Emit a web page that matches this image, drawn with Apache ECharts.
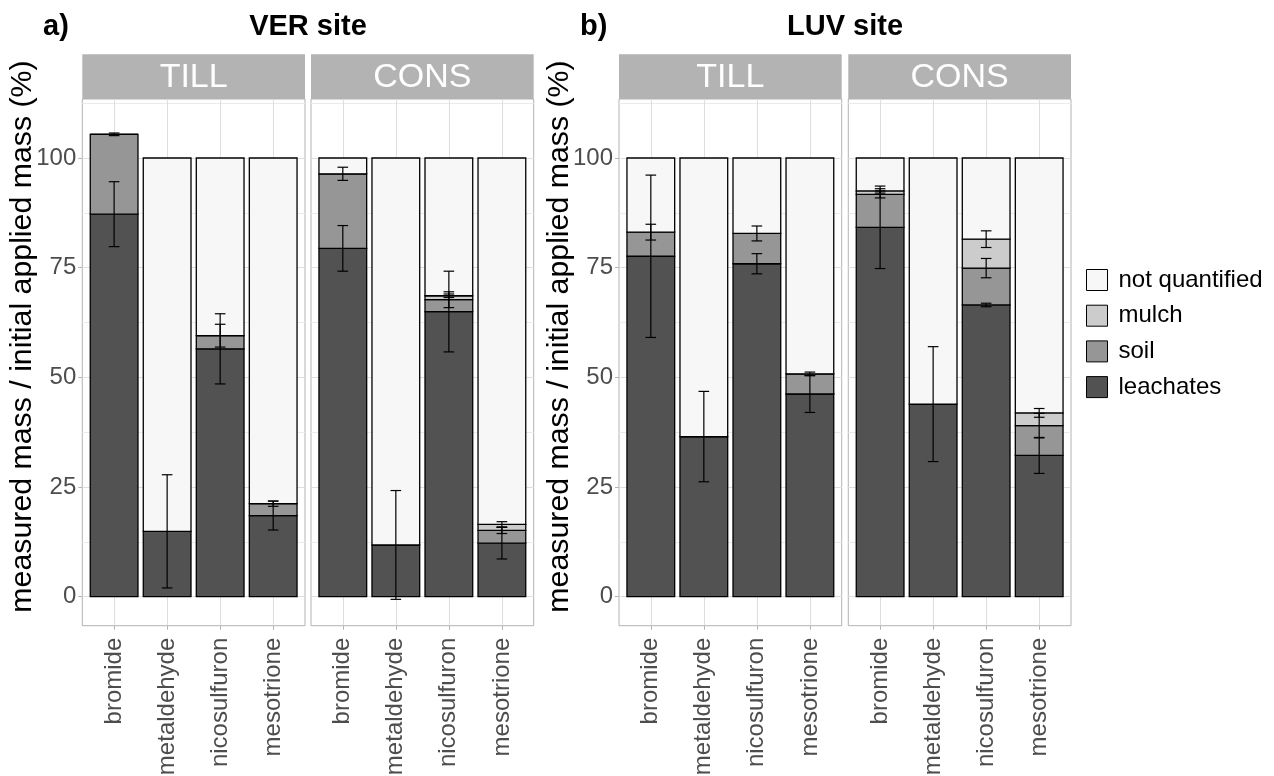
<!DOCTYPE html>
<html><head><meta charset="utf-8">
<script src="https://cdn.jsdelivr.net/npm/echarts@6/dist/echarts.min.js"></script>
<style>html,body{margin:0;padding:0;background:#fff}#chart{width:1274px;height:776px}</style>
</head><body><div id="chart"></div>
<script>
// ---------- data ----------
const categories = ['bromide', 'metaldehyde', 'nicosulfuron', 'mesotrione'];
const compartments = ['leachates', 'soil', 'mulch', 'not quantified'];
const legendOrder = ['not quantified', 'mulch', 'soil', 'leachates'];
const yTickLabels = [0, 25, 50, 75, 100];
const yGridValues = [0, 12.5, 25, 37.5, 50, 62.5, 75, 87.5, 100, 112.5];
const siteTitles = ['VER site', 'LUV site'];
const panelLetters = ['a)', 'b)'];
const treatments = ['TILL', 'CONS'];
const yAxisTitle = 'measured mass / initial applied mass (%)';

// VER site - TILL
const verTillLeachates = [87.2, 14.9, 56.5, 18.5];
const verTillSoil = [18.2, 0, 3.0, 2.7];
const verTillMulch = [0, 0, 0, 0];
const verTillNotQuantified = [0, 85.1, 40.5, 78.8];
const verTillLeachatesSd = [7.4, 12.9, 8.0, 3.3];
const verTillSoilSd = [0.3, null, 2.6, 0.6];
const verTillMulchSd = [null, null, null, null];

// VER site - CONS
const verConsLeachates = [79.4, 11.8, 65.0, 12.2];
const verConsSoil = [17.0, 0, 2.7, 2.9];
const verConsMulch = [0, 0, 0.9, 1.4];
const verConsNotQuantified = [3.6, 88.2, 31.4, 83.5];
const verConsLeachatesSd = [5.2, 12.4, 9.2, 3.6];
const verConsSoilSd = [1.5, null, 1.8, 0.7];
const verConsMulchSd = [null, null, 0.4, 0.6];

// LUV site - TILL
const luvTillLeachates = [77.6, 36.5, 75.9, 46.2];
const luvTillSoil = [5.5, 0, 6.9, 4.6];
const luvTillMulch = [0, 0, 0, 0];
const luvTillNotQuantified = [16.9, 63.5, 17.2, 49.2];
const luvTillLeachatesSd = [18.5, 10.3, 2.3, 4.2];
const luvTillSoilSd = [1.8, null, 1.7, 0.4];
const luvTillMulchSd = [null, null, null, null];

// LUV site - CONS
const luvConsLeachates = [84.2, 43.9, 66.5, 32.2];
const luvConsSoil = [7.5, 0, 8.4, 6.8];
const luvConsMulch = [0.8, 0, 6.6, 2.9];
const luvConsNotQuantified = [7.5, 56.1, 18.5, 58.1];
const luvConsLeachatesSd = [9.4, 13.1, 0.4, 4.1];
const luvConsSoilSd = [0.8, null, 2.2, 2.8];
const luvConsMulchSd = [0.5, null, 1.9, 1.0];

// ---------- styling / layout ----------
const colors = {'leachates': '#525252', 'soil': '#969696', 'mulch': '#cccccc', 'not quantified': '#f7f7f7'};
const FONT = '"Liberation Sans", Arial, Helvetica, sans-serif';
const panelLefts = [82.3, 311.0, 619.0, 848.3];
const panelWidth = 222.7;
const panelTop = 99;
const panelHeight = 526.7;
const stripTop = 54.3;
const stripHeight = 44.7;
const yMin = -6.61, yMax = 113.45;

const panels = [
  {site: 0, treat: 0, values: [verTillLeachates, verTillSoil, verTillMulch, verTillNotQuantified], sds: [verTillLeachatesSd, verTillSoilSd, verTillMulchSd]},
  {site: 0, treat: 1, values: [verConsLeachates, verConsSoil, verConsMulch, verConsNotQuantified], sds: [verConsLeachatesSd, verConsSoilSd, verConsMulchSd]},
  {site: 1, treat: 0, values: [luvTillLeachates, luvTillSoil, luvTillMulch, luvTillNotQuantified], sds: [luvTillLeachatesSd, luvTillSoilSd, luvTillMulchSd]},
  {site: 1, treat: 1, values: [luvConsLeachates, luvConsSoil, luvConsMulch, luvConsNotQuantified], sds: [luvConsLeachatesSd, luvConsSoilSd, luvConsMulchSd]}
];

function renderSegment(params, api) {
  const x = api.value(0), y0 = api.value(1), y1 = api.value(2);
  const p0 = api.coord([x, y0]);
  const p1 = api.coord([x, y1]);
  const w = api.size([0.9, 0])[0];
  return {
    type: 'rect',
    shape: {x: p0[0] - w / 2, y: p1[1], width: w, height: p0[1] - p1[1]},
    style: {fill: api.visual('color'), stroke: '#000', lineWidth: 1.3}
  };
}
function renderErr(params, api) {
  const x = api.value(0), c = api.value(1), e = api.value(2);
  const top = api.coord([x, c + e]);
  const bot = api.coord([x, c - e]);
  const hw = api.size([0.2, 0])[0] / 2;
  const st = {stroke: '#000', lineWidth: 1.2};
  return {type: 'group', children: [
    {type: 'line', shape: {x1: top[0], y1: top[1], x2: bot[0], y2: bot[1]}, style: st},
    {type: 'line', shape: {x1: top[0] - hw, y1: top[1], x2: top[0] + hw, y2: top[1]}, style: st},
    {type: 'line', shape: {x1: bot[0] - hw, y1: bot[1], x2: bot[0] + hw, y2: bot[1]}, style: st}
  ]};
}

const grids = [], xAxes = [], yAxes = [], series = [], graphics = [];
const catPositions = categories.map((c, j) => j + 1);

panels.forEach((p, i) => {
  const isFirst = p.treat === 0;
  grids.push({left: panelLefts[i], top: panelTop, width: panelWidth, height: panelHeight,
    show: true, borderColor: '#b3b3b3', borderWidth: 1, backgroundColor: '#fff',
    containLabel: false, outerBoundsMode: 'none'});
  xAxes.push({gridIndex: i, type: 'value', min: 0.4, max: 4.6,
    axisLine: {show: false, onZero: false},
    axisTick: {show: true, customValues: catPositions, length: 4, lineStyle: {color: '#b3b3b3', width: 1}},
    axisLabel: {show: true, customValues: catPositions, rotate: 90, margin: 12, fontSize: 24, color: '#4d4d4d', fontFamily: FONT,
      formatter: v => categories[Math.round(v) - 1] || ''},
    splitLine: {show: true, lineStyle: {color: '#dedede', width: 1}}});
  // series axis: all grid lines (major + minor)
  yAxes.push({gridIndex: i, type: 'value', min: yMin, max: yMax,
    axisLine: {show: false}, axisTick: {show: false, customValues: yGridValues},
    axisLabel: {show: false, customValues: yGridValues},
    splitLine: {show: true, lineStyle: {color: '#ebebeb', width: 1}}});
  // label axis: major lines + ticks + labels
  yAxes.push({gridIndex: i, type: 'value', min: yMin, max: yMax, position: 'left',
    axisLine: {show: false},
    axisTick: {show: isFirst, customValues: yTickLabels, length: 4, lineStyle: {color: '#b3b3b3', width: 1}},
    axisLabel: {show: isFirst, customValues: yTickLabels, margin: 6, fontSize: 24, color: '#4d4d4d', fontFamily: FONT},
    splitLine: {show: true, lineStyle: {color: '#dedede', width: 1}}});

  const cum = categories.map(() => 0);
  const tops = [];
  compartments.forEach((name, k) => {
    const vals = p.values[k];
    const data = categories.map((c, j) => {
      const base = cum[j];
      cum[j] += vals[j];
      return [j + 1, base, cum[j]];
    });
    tops.push(cum.slice());
    series.push({type: 'custom', name: name, xAxisIndex: i, yAxisIndex: 2 * i,
      itemStyle: {color: colors[name]}, renderItem: renderSegment,
      encode: {x: 0, y: [1, 2]}, data: data, z: 2, silent: true});
  });
  const errData = [];
  p.sds.forEach((sdArr, k) => {
    sdArr.forEach((sd, j) => {
      if (sd !== null) errData.push([j + 1, tops[k][j], sd]);
    });
  });
  series.push({type: 'custom', name: 'sd', xAxisIndex: i, yAxisIndex: 2 * i,
    renderItem: renderErr, encode: {x: 0, y: 1}, data: errData, z: 5, silent: true});

  // strip
  graphics.push({type: 'rect', shape: {x: panelLefts[i], y: stripTop, width: panelWidth, height: stripHeight},
    style: {fill: '#b3b3b3'}, z: 10});
  graphics.push({type: 'text', x: panelLefts[i] + panelWidth / 2, y: stripTop + stripHeight / 2 + 0.5, z: 11,
    style: {text: treatments[p.treat], fill: '#fff', fontSize: 34, fontFamily: FONT, align: 'center', verticalAlign: 'middle'}});
});

// titles and y-axis titles
[0, 1].forEach(s => {
  const left = panelLefts[2 * s], right = panelLefts[2 * s + 1] + panelWidth;
  graphics.push({type: 'text', x: s === 0 ? 43 : 580, y: 27, z: 11,
    style: {text: panelLetters[s], fill: '#000', fontSize: 29, fontWeight: 'bold', fontFamily: FONT, align: 'left', verticalAlign: 'middle'}});
  graphics.push({type: 'text', x: (left + right) / 2, y: 27, z: 11,
    style: {text: siteTitles[s], fill: '#000', fontSize: 29, fontWeight: 'bold', fontFamily: FONT, align: 'center', verticalAlign: 'middle'}});
  graphics.push({type: 'text', x: left - 59.5, y: (stripTop + panelTop + panelHeight) / 2 - 3.5, rotation: Math.PI / 2, z: 11,
    style: {text: yAxisTitle, fill: '#000', fontSize: 30.3, fontFamily: FONT, align: 'center', verticalAlign: 'middle'}});
});

const chart = echarts.init(document.getElementById('chart'), null, {renderer: 'canvas'});
chart.setOption({
  animation: false,
  backgroundColor: '#fff',
  textStyle: {fontFamily: FONT},
  grid: grids,
  xAxis: xAxes,
  yAxis: yAxes,
  series: series,
  legend: {data: legendOrder, orient: 'vertical', left: 1086, top: 268, padding: 0, itemWidth: 21, itemHeight: 21, itemGap: 11.7,
    icon: 'rect', selectedMode: false, itemStyle: {borderColor: '#000', borderWidth: 1},
    textStyle: {fontSize: 24, color: '#000', fontFamily: FONT, padding: [0, 0, 0, 6]}},
  graphic: graphics
});
</script>
</body></html>
